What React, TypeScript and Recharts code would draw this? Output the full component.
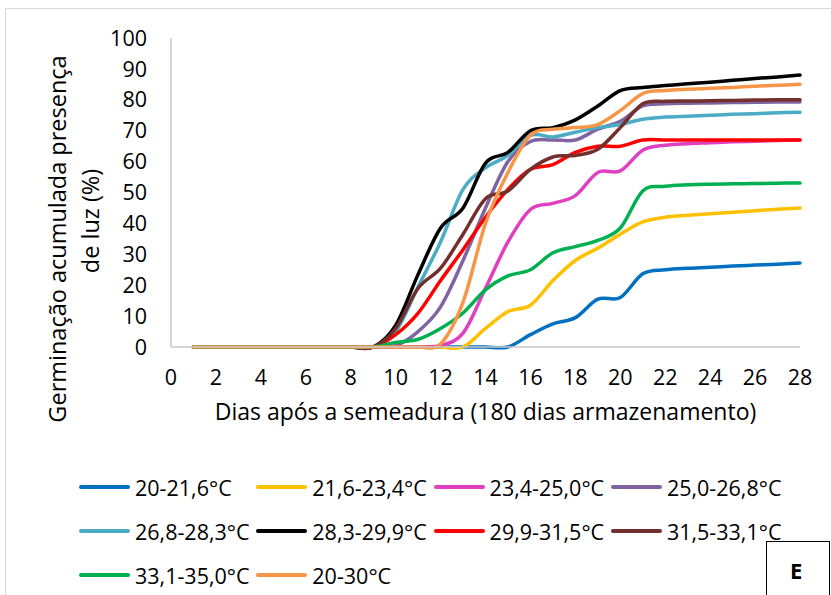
import { LineChart, Line, XAxis, YAxis, Legend } from 'recharts'

const days = [1, 2, 3, 4, 5, 6, 7, 8, 9, 10, 11, 12, 13, 14, 15, 16, 17, 18, 19, 20, 21, 22, 23, 24, 25, 26, 27, 28]

const t20_216 = [0, 0, 0, 0, 0, 0, 0, 0, 0, 0, 0, 0, 0, 0, 0, 4, 7.5, 9.5, 15.5, 16, 23.7, 25, 25.5, 25.8, 26.2, 26.5, 26.8, 27.2]
const t216_234 = [0, 0, 0, 0, 0, 0, 0, 0, 0, 0, 0, 0, 0, 6, 11.5, 13.5, 21.5, 28, 32, 36.5, 40.5, 42, 42.6, 43.1, 43.6, 44.1, 44.6, 45]
const t234_250 = [0, 0, 0, 0, 0, 0, 0, 0, 0, 0, 0, 0.5, 4.5, 19, 34, 44.5, 46.5, 49, 56.5, 57, 63.7, 65.3, 65.8, 66.1, 66.4, 66.6, 66.8, 67]
const t250_268 = [0, 0, 0, 0, 0, 0, 0, 0, 0, 0.5, 5, 13, 28, 45, 60, 66.5, 67, 67, 70.5, 73, 78, 78.7, 78.9, 79, 79.1, 79.2, 79.3, 79.3]
const t268_283 = [0, 0, 0, 0, 0, 0, 0, 0, 0, 5, 19.5, 34, 51, 58, 62, 68.5, 68, 69.5, 71, 72, 73.7, 74.4, 74.7, 75, 75.3, 75.5, 75.8, 76]
const t283_299 = [0, 0, 0, 0, 0, 0, 0, 0, 0, 7, 23.5, 38.5, 45, 59.5, 63, 70, 71, 73.5, 78, 83, 84, 84.6, 85.2, 85.7, 86.3, 86.9, 87.4, 88]
const t299_315 = [0, 0, 0, 0, 0, 0, 0, 0, 0, 4, 11, 21.5, 31.5, 42, 51, 57.5, 59, 63, 65, 65, 67, 67, 67, 67, 67, 67, 67, 67]
const t315_331 = [0, 0, 0, 0, 0, 0, 0, 0, 0, 6, 19, 25.5, 36.5, 48, 50.5, 57.5, 61.5, 62, 64, 71, 78.7, 79.5, 79.6, 79.7, 79.8, 79.9, 80, 80]
const t331_350 = [0, 0, 0, 0, 0, 0, 0, 0, 0, 1.5, 2.5, 6, 11, 18.5, 23, 25, 30.5, 32.5, 34.5, 38.5, 50.5, 52, 52.5, 52.7, 52.8, 52.9, 53, 53.1]
const t20_30 = [0, 0, 0, 0, 0, 0, 0, 0, 0, 0, 0, 1, 14.5, 40, 56.5, 68.5, 70.5, 71, 72, 76.5, 82, 83, 83.4, 83.7, 84, 84.4, 84.7, 85]

const seriesNames = [
  '20-21,6°C', '21,6-23,4°C', '23,4-25,0°C', '25,0-26,8°C', '26,8-28,3°C',
  '28,3-29,9°C', '29,9-31,5°C', '31,5-33,1°C', '33,1-35,0°C', '20-30°C',
]
const seriesValues = [t20_216, t216_234, t234_250, t250_268, t268_283, t283_299, t299_315, t315_331, t331_350, t20_30]
const seriesColors = ['#0070C0', '#FFC000', '#E040C0', '#8064A2', '#4BACC6', '#000000', '#FF0000', '#722F2B', '#00B050', '#F79646']

const xTicks = [0, 2, 4, 6, 8, 10, 12, 14, 16, 18, 20, 22, 24, 26, 28]
const yTicks = [0, 10, 20, 30, 40, 50, 60, 70, 80, 90, 100]

const rows = days.map((day, i) => {
  const row: Record<string, number> = { day }
  seriesValues.forEach((vals, s) => { row[`s${s}`] = vals[i] })
  return row
})

const font = '"Open Sans", sans-serif'
const axisGray = '#c9c9c9'

// smoothed line like spreadsheet charts: bezier with (p[i+1]-p[i-1])/6 handles
function smoothCurve(context: any) {
  let pts: [number, number][] = []
  return {
    areaStart() {},
    areaEnd() {},
    lineStart() { pts = [] },
    point(x: number, y: number) { pts.push([+x, +y]) },
    lineEnd() {
      if (!pts.length) return
      context.moveTo(pts[0][0], pts[0][1])
      for (let i = 0; i < pts.length - 1; i++) {
        const p0 = pts[i - 1] || pts[i]
        const p1 = pts[i]
        const p2 = pts[i + 1]
        const p3 = pts[i + 2] || p2
        context.bezierCurveTo(
          p1[0] + (p2[0] - p0[0]) / 6, p1[1] + (p2[1] - p0[1]) / 6,
          p2[0] - (p3[0] - p1[0]) / 6, p2[1] - (p3[1] - p1[1]) / 6,
          p2[0], p2[1],
        )
      }
    },
  }
}

function YTitle() {
  return (
    <g fill="#000" fontFamily={font} fontSize={23.5} textAnchor="middle">
      <text x={57} y={239} transform="rotate(-90 57 239)" dominantBaseline="central">
        Germinação acumulada presença
      </text>
      <text x={90} y={221} transform="rotate(-90 90 221)" dominantBaseline="central">
        de luz (%)
      </text>
    </g>
  )
}

function LegendRows() {
  const rowsOf = [seriesNames.slice(0, 4), seriesNames.slice(4, 8), seriesNames.slice(8)]
  return (
    <div style={{ fontFamily: font, fontSize: 21.5, color: '#000' }}>
      {rowsOf.map((names, r) => (
        <div key={r} style={{ display: 'flex', height: 44, alignItems: 'center', paddingLeft: 79 }}>
          {names.map((name) => {
            const idx = seriesNames.indexOf(name)
            return (
              <div key={name} style={{ width: 177.3, display: 'flex', alignItems: 'center' }}>
                <span style={{ display: 'inline-block', width: 51, height: 4, borderRadius: 2, background: seriesColors[idx], marginRight: 5 }} />
                <span style={{ whiteSpace: 'nowrap' }}>{name}</span>
              </div>
            )
          })}
        </div>
      ))}
    </div>
  )
}

export default function App() {
  return (
    <div style={{ position: 'absolute', left: 0, top: 0, width: 831, height: 595, overflow: 'hidden', background: '#fff' }}>
      <div style={{ position: 'absolute', left: 5, top: 8, width: 900, height: 700, border: '1.5px solid #d9d9d9' }} />
      <LineChart width={831} height={595} data={rows} margin={{ top: 38, right: 31, bottom: 218, left: 111 }}>
        <XAxis
          dataKey="day" type="number" domain={[0, 28]} ticks={xTicks} interval={0}
          tick={{ fill: '#000', fontSize: 21.5, fontFamily: font }}
          axisLine={{ stroke: axisGray, strokeWidth: 1.5 }} tickLine={false} tickSize={0} tickMargin={23}
          height={30}
          label={{ value: 'Dias após a semeadura (180 dias armazenamento)', position: 'bottom', offset: 27, fill: '#000', fontSize: 23, fontFamily: font }}
        />
        <YAxis
          type="number" domain={[0, 100]} ticks={yTicks} interval={0} width={60}
          tick={{ fill: '#000', fontSize: 21.5, fontFamily: font }}
          axisLine={{ stroke: axisGray, strokeWidth: 1.5 }} tickLine={false} tickSize={0} tickMargin={24}
          label={{ content: () => <YTitle /> }}
        />
        <Legend
          layout="horizontal" verticalAlign="middle" align="center"
          wrapperStyle={{ position: 'absolute', left: 0, top: 465, width: 831 }}
          content={() => <LegendRows />}
        />
        {seriesNames.map((name, s) => (
          <Line
            key={name} name={name} dataKey={`s${s}`} type={smoothCurve as any}
            stroke={seriesColors[s]} strokeWidth={3.5} strokeLinecap="round"
            dot={false} activeDot={false} isAnimationActive={false}
          />
        ))}
      </LineChart>
      <div style={{
        position: 'absolute', left: 766, top: 541, width: 64, height: 70, border: '1.5px solid #000',
        fontFamily: font, fontWeight: 700, fontSize: 22, boxSizing: 'border-box',
      }}>
        <span style={{ position: 'absolute', left: 23, top: 13 }}>E</span>
      </div>
    </div>
  )
}
